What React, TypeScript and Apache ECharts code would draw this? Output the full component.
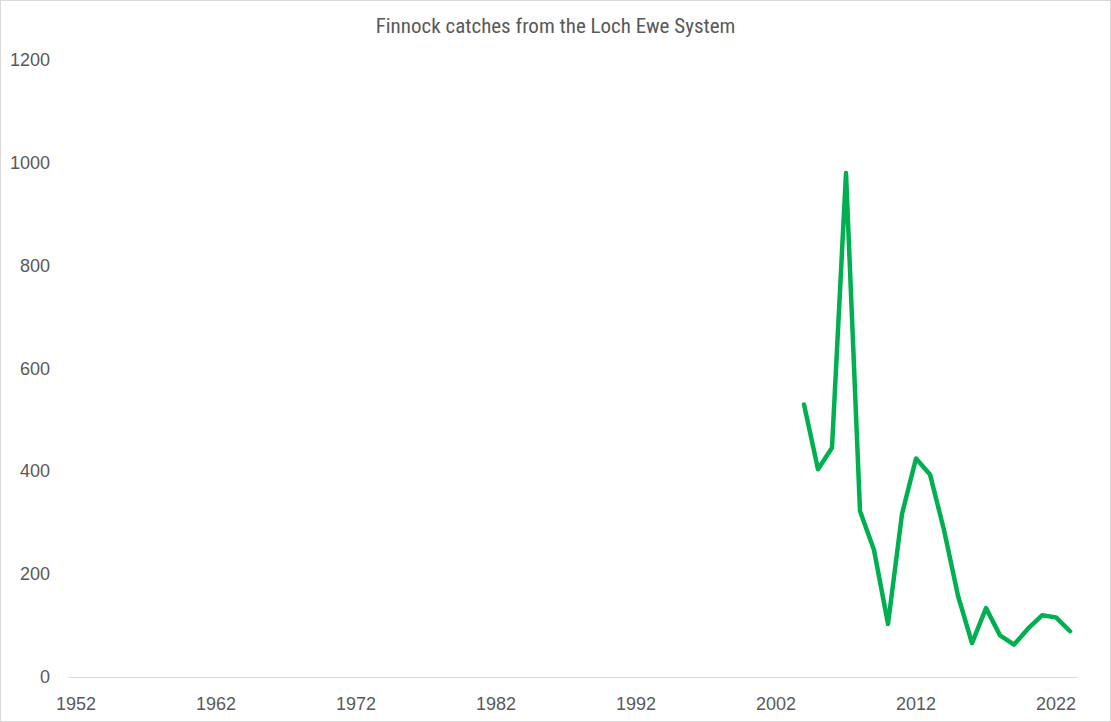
import React, { useEffect, useRef } from "react";
import * as echarts from "echarts";

const startYear = 1952;
const endYear = 2023;
const years: string[] = [];
for (let y = startYear; y <= endYear; y++) years.push(String(y));

const dataYears = [2004, 2005, 2006, 2007, 2008, 2009, 2010, 2011, 2012, 2013, 2014, 2015, 2016, 2017, 2018, 2019, 2020, 2021, 2022, 2023];
const catches = [530, 404, 446, 980, 323, 247, 103, 317, 425, 394, 286, 158, 66, 134, 81, 63, 94, 120, 116, 89];

const seriesData: (number | null)[] = years.map((y) => {
  const i = dataYears.indexOf(Number(y));
  return i >= 0 ? catches[i] : null;
});

const titleFont = "'Liberation Sans Narrow', 'Roboto Condensed', 'Liberation Sans', sans-serif";
const axisFont = "'Liberation Sans', Arial, sans-serif";

export default function App() {
  const ref = useRef<HTMLDivElement>(null);
  useEffect(() => {
    if (!ref.current) return;
    const chart = echarts.init(ref.current, undefined, { renderer: "svg" });
    chart.setOption({
      animation: false,
      backgroundColor: "#ffffff",
      title: {
        text: "Finnock catches from the Loch Ewe System",
        left: "center",
        top: 9,
        textStyle: { fontFamily: titleFont, fontSize: 21, fontWeight: "normal", color: "#595959" },
      },
      grid: { left: 68, right: 33, top: 59, bottom: 44, containLabel: false },
      xAxis: {
        type: "category",
        data: years,
        boundaryGap: true,
        axisLine: { lineStyle: { color: "#d9d9d9", width: 1 } },
        axisTick: { show: false },
        axisLabel: {
          interval: 9,
          margin: 18,
          fontFamily: axisFont,
          fontSize: 18,
          color: "#595959",
        },
      },
      yAxis: {
        type: "value",
        min: 0,
        max: 1200,
        interval: 200,
        splitLine: { show: false },
        axisLine: { show: false },
        axisTick: { show: false },
        axisLabel: {
          margin: 19,
          fontFamily: axisFont,
          fontSize: 18,
          color: "#595959",
          formatter: (v: number) => String(v),
        },
      },
      series: [
        {
          type: "line",
          data: seriesData,
          showSymbol: false,
          symbol: "none",
          connectNulls: false,
          lineStyle: { color: "#00B050", width: 4.5, cap: "round", join: "round" },
        },
      ],
    });
    return () => chart.dispose();
  }, []);
  return (
    <div
      ref={ref}
      style={{
        position: "absolute",
        left: 0,
        top: 0,
        width: 1111,
        height: 722,
        boxSizing: "border-box",
        border: "1px solid #d9d9d9",
      }}
    />
  );
}
